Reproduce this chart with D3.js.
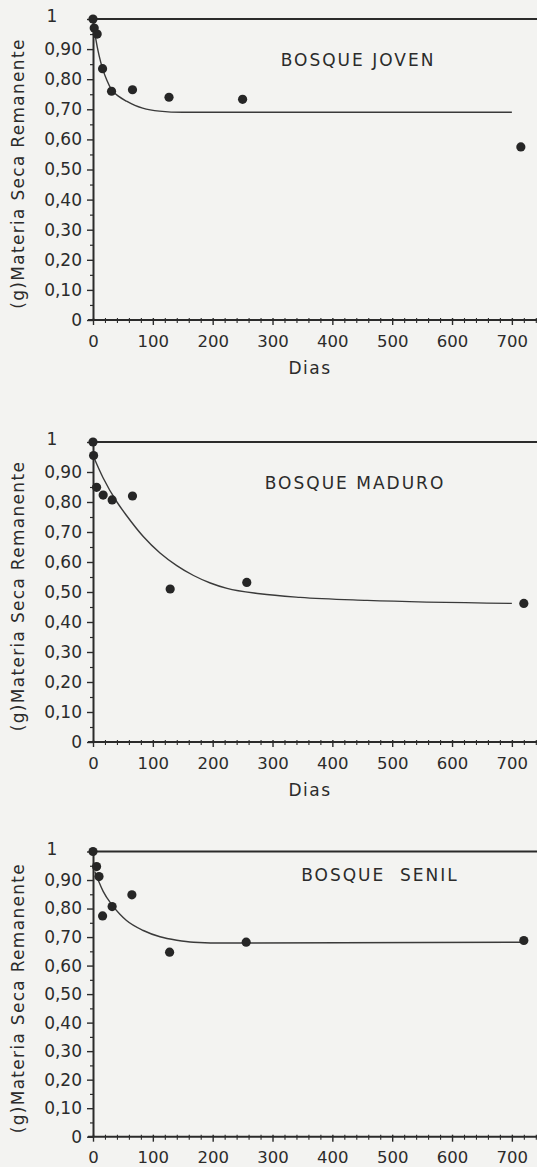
<!DOCTYPE html>
<html>
<head>
<meta charset="utf-8">
<script src="https://cdn.jsdelivr.net/npm/d3@7"></script>
<style>
  html, body { margin: 0; padding: 0; background: #f3f3f1; }
  svg { display: block; }
  text { font-family: "DejaVu Sans", sans-serif; fill: #2b2b2b; }
</style>
</head>
<body>
<div class="chart-container"></div>
<script>
// Tick values and labels (shared by the three panels)
const yTicks = [0, 0.1, 0.2, 0.3, 0.4, 0.5, 0.6, 0.7, 0.8, 0.9, 1];
const yTickLabels = ['0', '0,10', '0,20', '0,30', '0,40', '0,50', '0,60', '0,70', '0,80', '0,90', '1'];
const xTicks = [0, 100, 200, 300, 400, 500, 600, 700];
const xTickLabels = ['0', '100', '200', '300', '400', '500', '600', '700'];

// Bosque joven: measured points and fitted curve
const jovenDays = [0, 2, 7, 16, 31, 66, 127, 250, 715];
const jovenMass = [1.0, 0.97, 0.95, 0.835, 0.76, 0.765, 0.74, 0.733, 0.575];
const jovenFitDays = [0, 5, 10, 16, 23, 31, 43, 56, 70, 83, 111, 150, 700];
const jovenFitMass = [1.0, 0.93, 0.88, 0.835, 0.797, 0.765, 0.743, 0.727, 0.713, 0.704, 0.694, 0.69, 0.69];

// Bosque maduro
const maduroDays = [0, 1, 6, 17, 32, 66, 129, 257, 720];
const maduroMass = [1.0, 0.955, 0.849, 0.823, 0.807, 0.82, 0.51, 0.532, 0.462];
const maduroFitDays = [0, 17, 40, 56, 84, 112, 140, 168, 196, 224, 279, 346, 458, 700];
const maduroFitMass = [0.955, 0.88, 0.80, 0.755, 0.685, 0.63, 0.588, 0.555, 0.53, 0.512, 0.494, 0.482, 0.472, 0.462];

// Bosque senil
const senilDays = [0, 6, 10, 16, 32, 65, 128, 256, 720];
const senilMass = [1.0, 0.947, 0.912, 0.774, 0.807, 0.848, 0.647, 0.682, 0.688];
const senilFitDays = [3, 10, 17, 32, 45, 56, 84, 112, 140, 168, 224, 720];
const senilFitMass = [0.93, 0.893, 0.86, 0.812, 0.78, 0.758, 0.723, 0.701, 0.689, 0.682, 0.679, 0.682];

const width = 537, height = 1167;
const ink = '#2b2b2b';

const svg = d3.select('.chart-container')
    .append('svg')
    .attr('width', width)
    .attr('height', height);

svg.append('rect').attr('width', width).attr('height', height).attr('fill', '#f3f3f1');

// Same day scale for every panel, runs off the right edge
const x = d3.scaleLinear().domain([0, 742]).range([93, 537]);

const panels = [
    { title: 'BOSQUE JOVEN', days: jovenDays, mass: jovenMass, fitDays: jovenFitDays, fitMass: jovenFitMass,
      top: 19, bottom: 320, titleX: 358, titleY: 66, dias: true },
    { title: 'BOSQUE MADURO', days: maduroDays, mass: maduroMass, fitDays: maduroFitDays, fitMass: maduroFitMass,
      top: 442, bottom: 742, titleX: 355, titleY: 489, dias: true },
    { title: 'BOSQUE\u00a0\u00a0SENIL', days: senilDays, mass: senilMass, fitDays: senilFitDays, fitMass: senilFitMass,
      top: 851.5, bottom: 1136.7, titleX: 380, titleY: 881, dias: false }
];

panels.forEach(p => drawPanel(p));

function drawPanel(p) {
    const g = svg.append('g');
    const y = d3.scaleLinear().domain([0, 1]).range([p.bottom, p.top]);

    // minor ticks on the Y axis
    g.append('g')
        .attr('transform', `translate(${x(0)},0)`)
        .call(d3.axisLeft(y).tickValues(d3.range(0.05, 1, 0.1)).tickSize(3).tickFormat(''))
        .call(a => a.select('.domain').remove())
        .call(a => a.selectAll('line').attr('stroke', ink).attr('stroke-width', 1.2));

    // Y axis
    const yAxis = g.append('g')
        .attr('transform', `translate(${x(0)},0)`)
        .call(d3.axisLeft(y).tickValues(yTicks).tickFormat((d, i) => yTickLabels[i])
            .tickSize(6).tickSizeOuter(0).tickPadding(5));
    yAxis.select('.domain').attr('stroke', ink).attr('stroke-width', 2);
    yAxis.selectAll('line').attr('stroke', ink).attr('stroke-width', 1.4);
    yAxis.selectAll('text')
        .attr('font-size', 17)
        .attr('fill', ink)
        .style('font-family', '"DejaVu Sans", sans-serif');
    // the "1" label sits further left, centred
    yAxis.selectAll('.tick').filter(d => d === 1).select('text')
        .attr('text-anchor', 'middle')
        .attr('x', 52 - x(0))
        .attr('dy', '0.15em');

    // minor ticks on the X axis
    g.append('g')
        .attr('transform', `translate(0,${p.bottom})`)
        .call(d3.axisBottom(x).tickValues(d3.range(20, 741, 20).filter(d => d % 100 !== 0))
            .tickSize(3).tickFormat(''))
        .call(a => a.select('.domain').remove())
        .call(a => a.selectAll('line').attr('stroke', ink).attr('stroke-width', 1.1).attr('y1', -2));

    // X axis
    const xAxis = g.append('g')
        .attr('transform', `translate(0,${p.bottom})`)
        .call(d3.axisBottom(x).tickValues(xTicks).tickFormat((d, i) => xTickLabels[i])
            .tickSize(5).tickSizeOuter(0).tickPadding(10));
    xAxis.select('.domain').attr('stroke', ink).attr('stroke-width', 2)
        .attr('d', `M${x(0) - 5},0H${width}`);
    xAxis.selectAll('line').attr('stroke', ink).attr('stroke-width', 1.4).attr('y1', -2);
    xAxis.selectAll('text')
        .attr('font-size', 16.5)
        .attr('fill', ink)
        .style('font-family', '"DejaVu Sans", sans-serif');

    // horizontal line at 1
    g.append('line')
        .attr('x1', x(0)).attr('x2', width)
        .attr('y1', y(1)).attr('y2', y(1))
        .attr('stroke', ink).attr('stroke-width', 2);

    // fitted curve
    const fit = p.fitDays.map((d, i) => [d, p.fitMass[i]]);
    g.append('path')
        .datum(fit)
        .attr('fill', 'none')
        .attr('stroke', '#3a3a3a')
        .attr('stroke-width', 1.4)
        .attr('d', d3.line()
            .curve(d3.curveMonotoneX)
            .x(d => x(d[0]))
            .y(d => y(d[1])));

    // measured points
    g.append('g')
        .selectAll('circle')
        .data(p.days.map((d, i) => [d, p.mass[i]]))
        .enter()
        .append('circle')
        .attr('cx', d => x(d[0]))
        .attr('cy', d => y(d[1]))
        .attr('r', 4.6)
        .attr('fill', '#262626');

    // title
    g.append('text')
        .attr('x', p.titleX)
        .attr('y', p.titleY)
        .attr('text-anchor', 'middle')
        .attr('font-size', 17)
        .attr('letter-spacing', 2)
        .text(p.title);

    // Y axis title
    g.append('text')
        .attr('transform', `translate(24,${(p.top + p.bottom) / 2 + 4}) rotate(-90)`)
        .attr('text-anchor', 'middle')
        .attr('font-size', 17)
        .attr('letter-spacing', 1.3)
        .text('(g)Materia Seca Remanente');

    // X axis title
    if (p.dias) {
        g.append('text')
            .attr('x', 310)
            .attr('y', p.bottom + 54)
            .attr('text-anchor', 'middle')
            .attr('font-size', 17)
            .attr('letter-spacing', 1.5)
            .text('Dias');
    }
}
</script>
</body>
</html>
